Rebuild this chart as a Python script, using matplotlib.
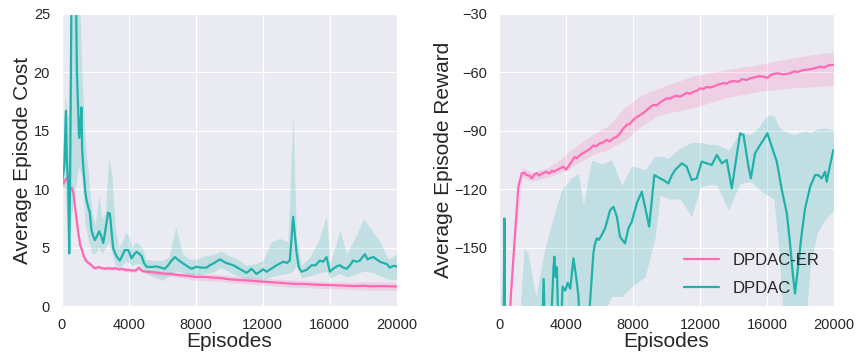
import matplotlib
matplotlib.use("Agg")
import matplotlib.pyplot as plt
import numpy as np
import seaborn as sns

sns.set_style("darkgrid")
plt.rcParams['font.family'] = ['Liberation Sans', 'DejaVu Sans']

PINK = '#FF69B4'
TEAL = '#20B2AA'

# ---- cost, DPDAC-ER ----
cost_er_x = [0, 100, 200, 300, 400, 500, 600, 700, 800, 900, 1000, 1100, 1200, 1300,
             1400, 1500, 1600, 1700, 1800, 1900, 2000, 2200, 2400, 2600, 2800, 3000,
             3200, 3400, 3600, 3800, 4000, 4200, 4400, 4600, 4800, 5000, 5500, 6000,
             6500, 7000, 7500, 8000, 8500, 9000, 9500, 10000, 10500, 11000, 11500,
             12000, 12500, 13000, 13500, 14000, 14500, 15000, 15500, 16000, 16500,
             17000, 17500, 18000, 18500, 19000, 19500, 20000]
cost_er = [10.6, 10.5, 10.8, 10.9, 11.05, 10.0, 10.1, 9.6, 8.3, 7.2, 6.1, 5.2, 4.8, 4.3,
           4.0, 3.8, 3.7, 3.6, 3.45, 3.3, 3.25, 3.35, 3.25, 3.2, 3.25, 3.2,
           3.25, 3.15, 3.2, 3.1, 3.1, 3.05, 3.05, 3.3, 3.0, 2.95, 2.9, 2.8,
           2.75, 2.65, 2.6, 2.5, 2.5, 2.45, 2.4, 2.3, 2.25, 2.2, 2.15,
           2.1, 2.05, 2.0, 1.95, 1.9, 1.9, 1.85, 1.82, 1.8, 1.78,
           1.75, 1.72, 1.75, 1.7, 1.72, 1.7, 1.68]
cost_er_spread = [0.3, 0.3, 0.3, 0.3, 0.3, 0.3, 0.3, 0.3, 0.3, 0.3, 0.3, 0.3, 0.3, 0.25,
                  0.25, 0.2, 0.2, 0.15, 0.15, 0.15, 0.15, 0.15, 0.15, 0.15, 0.15, 0.15,
                  0.15, 0.15, 0.15, 0.15, 0.15, 0.15, 0.15, 0.15, 0.15, 0.15, 0.2, 0.2,
                  0.2, 0.2, 0.25, 0.3, 0.3, 0.3, 0.3, 0.3, 0.3, 0.3, 0.3,
                  0.3, 0.3, 0.3, 0.3, 0.3, 0.3, 0.3, 0.3, 0.3, 0.3,
                  0.3, 0.3, 0.35, 0.35, 0.35, 0.35, 0.35]

# ---- cost, DPDAC ----
cost_x = [0, 100, 150, 240, 300, 380, 440, 500, 575, 700, 840, 900, 1030, 1100, 1175,
          1210, 1300, 1400, 1470, 1570, 1670, 1770, 1870, 1970, 2100, 2230, 2350, 2470,
          2600, 2760, 2870, 2960, 3065, 3250, 3460, 3600, 3760, 3960, 4160, 4300, 4460,
          4600, 4760, 4900, 5060, 5350, 5650, 5900, 6150, 6350, 6550, 6750, 7000, 7240,
          7500, 7740, 8040, 8300, 8640, 8840, 9100, 9430, 9800, 10230, 10600, 11030,
          11320, 11620, 12020, 12220, 12500, 12820, 13220, 13450, 13610, 13810, 14010,
          14150, 14310, 14610, 14910, 15150, 15400, 15600, 15800, 16000, 16200, 16400,
          16600, 16800, 17000, 17200, 17390, 17600, 17790, 18090, 18250, 18390, 18600,
          18790, 19000, 19180, 19400, 19580, 19800, 19980]
cost = [10.5, 11.5, 12.0, 16.7, 12.5, 10.3, 4.5, 12.0, 27.0, 30.0, 27.0, 20.0, 14.4, 15.5, 17.0,
        13.4, 11.5, 9.8, 9.1, 8.5, 8.0, 6.5, 6.0, 5.65, 6.0, 6.4, 6.0, 5.4,
        6.5, 8.0, 7.9, 6.5, 4.95, 4.3, 3.9, 4.3, 4.8, 4.8, 4.1, 4.4, 4.65,
        4.5, 4.3, 3.7, 3.37, 3.35, 3.4, 3.3, 3.2, 3.5, 3.9, 4.2, 3.9, 3.65,
        3.4, 3.2, 3.37, 3.3, 3.3, 3.5, 3.7, 4.0, 3.7, 3.5, 3.2, 2.85,
        3.2, 2.75, 3.15, 2.95, 3.2, 3.5, 3.8, 3.7, 3.9, 7.65, 4.6,
        3.3, 2.95, 3.1, 3.5, 3.5, 3.9, 3.8, 4.2, 2.95, 3.2, 3.4,
        3.5, 3.3, 3.2, 3.5, 3.9, 3.8, 3.9, 4.45, 4.0, 4.1, 4.2,
        4.0, 3.8, 3.7, 3.6, 3.3, 3.45, 3.4]
cost_band_x = [0, 200, 400, 600, 800, 1000, 1200, 1400, 1600, 1800, 2000, 2200, 2400,
               2600, 2800, 3000, 3200, 3400, 3600, 3800, 4000, 4200, 4400, 4600, 4800,
               5000, 5500, 6000, 6400, 6800, 7200, 7600, 8000, 8500, 9000, 9500, 10000,
               10500, 11000, 11500, 12000, 12500, 13000, 13500, 13800, 14000, 14300,
               14800, 15300, 15800, 16000, 16300, 16600, 17000, 17500, 18000, 18500,
               19000, 19500, 20000]
cost_lo = [10.2, 10.0, 4.5, 8.0, 10.0, 12.0, 11.0, 7.0, 5.5, 4.5, 4.5, 5.0, 4.5,
           5.0, 5.5, 4.5, 3.5, 3.3, 3.5, 3.8, 3.7, 3.5, 3.6, 3.7, 3.3,
           2.8, 2.5, 2.2, 2.6, 3.0, 2.9, 2.6, 2.7, 2.8, 2.9, 3.3, 2.9,
           2.6, 2.3, 2.3, 2.3, 2.5, 2.7, 2.8, 3.0, 3.5, 2.4,
           2.6, 2.8, 3.0, 2.4, 2.6, 2.8, 2.5, 2.7, 3.0, 2.9,
           2.6, 2.3, 2.3]
cost_hi = [11.0, 18.0, 16.0, 30.0, 30.0, 30.0, 19.8, 14.0, 11.0, 8.0, 7.0, 9.5, 7.5,
           8.0, 12.8, 11.0, 6.5, 5.0, 5.5, 6.3, 6.0, 5.0, 5.5, 5.3, 5.0,
           4.0, 3.9, 3.9, 4.2, 6.8, 4.5, 4.0, 4.0, 4.3, 4.4, 4.7, 4.3,
           4.0, 3.5, 3.6, 3.9, 5.5, 5.8, 5.5, 16.5, 6.0, 3.5,
           4.2, 5.5, 7.7, 3.6, 5.0, 6.5, 4.5, 5.8, 7.5, 6.5,
           5.5, 4.0, 4.5]

# ---- reward, DPDAC-ER ----
rew_er_x = [0, 500, 700, 955, 1150, 1355, 1500, 1650, 1800, 1950, 2100, 2250, 2400, 2550,
            2700, 2850, 3000, 3150, 3300, 3440, 3600, 3840, 4000, 4150, 4340, 4500, 4650,
            4840, 5000, 5200, 5400, 5630, 5800, 6000, 6200, 6430, 6600, 6800, 7030, 7200,
            7400, 7620, 7800, 8000, 8200, 8420, 8600, 8800, 9000, 9210, 9400, 9600, 9800,
            10010, 10200, 10400, 10600, 10800, 11000, 11200, 11400, 11600, 11800, 12000,
            12200, 12400, 12600, 12800, 13000, 13200, 13400, 13600, 13790, 14000, 14300,
            14500, 14790, 15000, 15300, 15500, 15780, 16000, 16300, 16580, 16800, 17000,
            17370, 17600, 17800, 18170, 18500, 18800, 19160, 19400, 19700, 19960]
rew_er = [-300, -215, -175, -142.6, -118.7, -111.8, -111.5, -112.7, -113, -114.4, -112.5,
          -111.8, -113, -112, -111.5, -111, -112, -110.5, -111, -110.1, -109.5, -108.4,
          -110, -108, -105.8, -103.5, -104, -102.4, -101.5, -100.5, -99.5, -97.5, -98,
          -96.5, -96, -94.7, -95.5, -94, -93, -91.5, -89, -87, -86.5, -84.5, -83,
          -81.9, -81, -79.5, -78, -76.7, -77, -75.5, -74.5, -73.3, -73.5, -72.5, -72,
          -72.5, -71.6, -70.5, -71, -70, -69.5, -68.2, -68.5, -67.5, -67.8, -67.3,
          -66.5, -66, -65.5, -65.8, -64.8, -64.5, -64.8, -63.5, -63.9, -63, -62.5, -62,
          -62.2, -62.8, -61, -60.5, -60.8, -61, -60.5, -59.5, -59.8, -58.8, -58.5, -58,
          -57.1, -57.5, -56.3, -56.2]
rew_er_band_x = [0, 500, 700, 1000, 1400, 2000, 3000, 3640, 4500, 5630, 6500, 7620, 8500,
                 9610, 11600, 13590, 15580, 17570, 19560, 20000]
rew_er_lo = [-300, -220, -180, -147, -114, -116, -114, -112, -108, -102.4, -100, -94.7,
             -88, -82, -78.5, -73.3, -70, -68.2, -67.3, -67]
rew_er_hi = [-300, -210, -170, -139, -109, -111.5, -109, -105, -99, -92, -88, -77.6,
             -72, -68.2, -62.2, -58.8, -56.2, -52.8, -50.2, -50]

# ---- reward, DPDAC ----
rew_x = [0, 250, 318, 380, 1000, 2000, 2550, 2660, 2760, 3100, 3250, 3300, 3380, 3450,
         3550, 3700, 3790, 3950, 4100, 4250, 4440, 4600, 4740, 4850, 5100, 5350, 5430,
         5630, 5700, 5830, 5950, 6130, 6330, 6630, 6830, 7030, 7220, 7520, 7720, 7920,
         8220, 8520, 8820, 8960, 9270, 9610, 9850, 10110, 10300, 10510, 10910, 11200,
         11500, 11800, 12100, 12400, 12700, 13000, 13300, 13590, 13890, 14190, 14390,
         14590, 14890, 15030, 15280, 15580, 15780, 16020, 16280, 16580, 16880, 17180,
         17370, 17530, 17670, 17870, 18070, 18270, 18570, 18870, 19060, 19260, 19460,
         19560, 19760, 19960]
rew = [-260, -240, -135, -240, -250, -230, -200, -166, -200, -190, -160, -154.6, -165,
       -160, -195, -190, -170, -172, -168, -171, -155.5, -165, -175, -200, -210, -190,
       -178, -152.9, -149, -145.2, -146, -143.5, -140, -130.7, -129, -134, -144.4,
       -147.8, -140, -136.7, -127.2, -121.3, -133.4, -139.2, -112.7, -114.4, -115.5,
       -117, -113, -110.1, -106.7, -108.4, -115.3, -114.4, -105.8, -106.7, -107.5,
       -102.4, -106.7, -105, -119.5, -102.4, -91.3, -92.2, -108.4, -114.4, -101.6,
       -97.3, -94.7, -91.3, -98.1, -105.8, -120.4, -132.4, -147.8, -163.2, -173.5,
       -158, -142.6, -129.8, -118.7, -112.7, -112.7, -114.4, -111, -116.1, -107.6, -99.8]
rew_band_x = [0, 300, 400, 1200, 1500, 1730, 2200, 2750, 3150, 3740, 4340, 4740, 5030,
              5530, 6130, 6730, 7330, 7920, 8720, 9310, 9610, 10110, 10800, 11500, 12000,
              12600, 13000, 13700, 14390, 15000, 15500, 16000, 16400, 16700, 17000,
              17600, 18300, 18570, 19000, 19500, 20000]
rew_lo = [-260, -200, -260, -230, -200, -200, -210, -205, -200, -200, -195, -195, -200,
          -195, -185, -175, -175, -170, -165, -145, -123, -125, -125, -134, -119,
          -117.5, -118, -130.7, -117, -116, -120, -123, -125, -151, -190,
          -200, -190, -160, -142, -135, -130.7]
rew_hi = [-200, -133, -200, -190, -150, -153, -175, -150, -137, -120, -114, -112, -128,
          -105, -107, -105, -118, -108, -110, -103, -103, -104, -99, -96, -96,
          -97, -97, -100, -90.4, -92, -88, -82, -82, -88, -90,
          -92, -90, -91, -89, -88.6, -90]

xticks = [0, 4000, 8000, 12000, 16000, 20000]

fig = plt.figure(figsize=(8.59, 3.56), dpi=100)
ax1 = fig.add_axes([0.072, 0.140, 0.390, 0.821])
ax2 = fig.add_axes([0.581, 0.140, 0.390, 0.821])

# left: average episode cost
ax1.fill_between(cost_er_x, np.array(cost_er) - np.array(cost_er_spread),
                 np.array(cost_er) + np.array(cost_er_spread), color=PINK, alpha=0.2, lw=0)
ax1.plot(cost_er_x, cost_er, color=PINK, lw=1.6)
ax1.fill_between(cost_band_x, cost_lo, cost_hi, color=TEAL, alpha=0.2, lw=0)
ax1.plot(cost_x, cost, color=TEAL, lw=1.6)
ax1.set_xlim(0, 20000)
ax1.set_ylim(0, 25)
ax1.set_yticks([0, 5, 10, 15, 20, 25])
ax1.set_ylabel('Average Episode Cost', fontsize=15, labelpad=1)

# right: average episode reward
ax2.fill_between(rew_er_band_x, rew_er_lo, rew_er_hi, color=PINK, alpha=0.2, lw=0)
ax2.plot(rew_er_x, rew_er, color=PINK, lw=1.6, label='DPDAC-ER')
ax2.fill_between(rew_band_x, rew_lo, rew_hi, color=TEAL, alpha=0.2, lw=0)
ax2.plot(rew_x, rew, color=TEAL, lw=1.6, label='DPDAC')
ax2.set_xlim(0, 20000)
ax2.set_ylim(-180, -30)
ax2.set_yticks([-150, -120, -90, -60, -30])
ax2.set_ylabel('Average Episode Reward', fontsize=15, labelpad=1)
ax2.legend(loc='lower right', fontsize=12, frameon=False, handlelength=2.1,
           handletextpad=0.8, labelspacing=0.75, borderaxespad=0.5,
           bbox_to_anchor=(1.0, -0.015))

for ax in (ax1, ax2):
    ax.set_xticks(xticks)
    ax.set_xlabel('Episodes', fontsize=15, labelpad=0)
    ax.tick_params(labelsize=10.5, pad=5, colors='.15')

fig.savefig('out.png', dpi=100)
